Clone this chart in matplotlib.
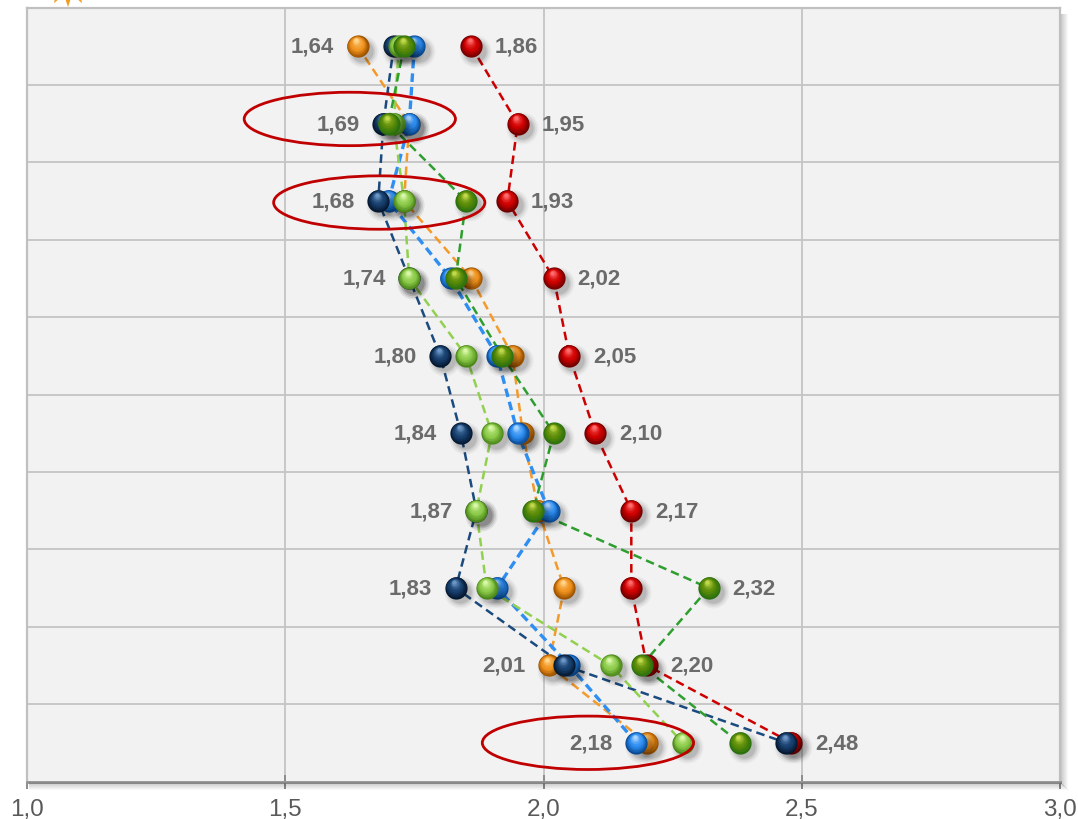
import numpy as np
import matplotlib
matplotlib.use("Agg")
import matplotlib.pyplot as plt
from matplotlib import transforms
from matplotlib.patches import Ellipse, Polygon
from matplotlib.lines import Line2D
from matplotlib.colors import to_rgb

# ---- data: ten categories (rows, top to bottom), six series ----
n_rows = 10
x_ticks = [1.0, 1.5, 2.0, 2.5, 3.0]
x_tick_labels = ["1,0", "1,5", "2,0", "2,5", "3,0"]

red = [1.86, 1.95, 1.93, 2.02, 2.05, 2.10, 2.17, 2.17, 2.20, 2.48]
orange = [1.64, 1.74, 1.73, 1.86, 1.94, 1.96, 1.99, 2.04, 2.01, 2.20]
blue = [1.75, 1.74, 1.70, 1.82, 1.91, 1.95, 2.01, 1.91, 2.05, 2.18]
navy = [1.71, 1.69, 1.68, 1.74, 1.80, 1.84, 1.87, 1.83, 2.04, 2.47]
light_green = [1.72, 1.71, 1.73, 1.74, 1.85, 1.90, 1.87, 1.89, 2.13, 2.27]
dark_green = [1.73, 1.70, 1.85, 1.83, 1.92, 2.02, 1.98, 2.32, 2.19, 2.38]

# highlighted rows: (row index, ellipse centre on x, vertical shift)
highlights = [(1, 1.625, -0.06), (2, 1.682, 0.02), (9, 2.086, 0.0)]

# series drawn back to front: values, line colour, line width, sphere (dark, mid, light)
series = [
    (red, "#cc0000", 1.8, ("#6e0000", "#d00000", "#ff6a6a")),
    (orange, "#f39a2b", 1.8, ("#9c5200", "#f0921e", "#ffd58a")),
    (blue, "#2f8ef2", 2.4, ("#0a4a94", "#2b8cf0", "#a8d4ff")),
    (navy, "#1b4a7e", 1.8, ("#06182f", "#17406f", "#6a95c4")),
    (light_green, "#92d050", 1.8, ("#4a8619", "#8dcb4a", "#d8f7a8")),
    (dark_green, "#2e9e2e", 1.8, ("#2a7010", "#5c8c08", "#c0d84a")),
]

W, H = 1078, 820
fig = plt.figure(figsize=(W / 100, H / 100), dpi=100)
fig.patch.set_facecolor("white")

ax_l, ax_r, ax_t, ax_b = 27, 1060, 8.5, 782.5
ax = fig.add_axes([ax_l / W, 1 - ax_b / H, (ax_r - ax_l) / W, (ax_b - ax_t) / H])
ax.set_facecolor("#f2f2f2")
ax.set_xlim(1.0, 3.0)
ax.set_ylim(n_rows, 0)

rows = np.arange(n_rows) + 0.5

# grid
ax.set_yticks(np.arange(0, n_rows + 1))
ax.set_yticklabels([])
ax.tick_params(axis="y", length=0)
ax.set_xticks(x_ticks)
ax.set_xticklabels(x_tick_labels, fontsize=17.5, color="#595959",
                   family=["Liberation Sans", "DejaVu Sans"])
ax.tick_params(axis="x", direction="inout", length=9.5, width=1.4,
               color="#8c8c8c", pad=7)
ax.grid(True, color="#c4c4c4", linewidth=1.3, zorder=0)
ax.set_axisbelow(True)

for side in ("left", "top", "right"):
    ax.spines[side].set_color("#c0c0c0")
    ax.spines[side].set_linewidth(1.6)
ax.spines["bottom"].set_color("#8c8c8c")
ax.spines["bottom"].set_linewidth(1.8)

# soft shadow under the bottom axis and right of the frame
for i in range(1, 8):
    a = 0.22 * (1 - i / 8)
    yb = 1 - (ax_b + i) / H
    fig.add_artist(Line2D([(ax_l + 2) / W, (ax_r + i) / W], [yb, yb],
                          color="black", alpha=a, lw=0.75))
    xr = (ax_r + i) / W
    fig.add_artist(Line2D([xr, xr], [1 - (ax_t + 6) / H, 1 - (ax_b + i) / H],
                          color="black", alpha=a, lw=0.75))

# decorative sunburst peeking in at the top left
cx, cy, r_out, r_in = 68, -20, 28, 16
pts = []
for k in range(24):
    ang = -np.pi / 2 + k * np.pi / 12
    r = r_out if k % 2 == 0 else r_in
    pts.append(((cx + r * np.cos(ang)) / W, 1 - (cy - r * np.sin(ang)) / H))
fig.add_artist(Polygon(pts, closed=True, facecolor="#f39a1f", edgecolor="none",
                       transform=fig.transFigure, zorder=0))

D = 16.0  # sphere diameter, points


def draw_spheres(xs, ys, dark, mid, light, z):
    # soft drop shadow
    for scale, a in [(1.45, 0.035), (1.3, 0.05), (1.15, 0.07), (1.0, 0.1)]:
        tr = transforms.offset_copy(ax.transData, fig=fig, x=3.0, y=-3.2, units="points")
        ax.scatter(xs, ys, s=(D * scale) ** 2, color="black", alpha=a, lw=0,
                   transform=tr, zorder=z)
    c0, c1, c2 = (np.array(to_rgb(c)) for c in (dark, mid, light))
    n = 12
    for i in range(n):
        t = i / (n - 1)
        if t < 0.45:
            c = c0 + (c1 - c0) * (t / 0.45)
        else:
            c = c1 + (c2 - c1) * ((t - 0.45) / 0.55) ** 1.6
        size = D * (1 - 0.82 * t)
        off = 0.26 * D * t
        tr = transforms.offset_copy(ax.transData, fig=fig, x=-0.25 * off, y=off,
                                    units="points")
        ax.scatter(xs, ys, s=size ** 2, color=c, lw=0, transform=tr,
                   zorder=z + 0.01 * (i + 1))


for k, (vals, lc, lw, (dk, md, lt)) in enumerate(series):
    ax.plot(vals, rows, color=lc, lw=lw, dashes=(6.2 / lw, 3.6 / lw),
            zorder=2 + 0.1 * k)
    draw_spheres(vals, rows, dk, md, lt, 10 + k)

# min / max value labels for every row
lab_kw = dict(fontsize=16, fontweight="bold", color="#6b6b6b", va="center",
              textcoords="offset points", zorder=30,
              family=["Liberation Sans", "DejaVu Sans"])
for r in range(n_rows):
    row_vals = [s[0][r] for s in series]
    lo, hi = min(row_vals), max(row_vals)
    ax.annotate(f"{lo:.2f}".replace(".", ","), (lo, rows[r]), xytext=(-17, 0),
                ha="right", **lab_kw)
    ax.annotate(f"{hi:.2f}".replace(".", ","), (hi, rows[r]), xytext=(17, 0),
                ha="left", **lab_kw)

# red ellipses around highlighted rows
for r, xc, dy in highlights:
    ax.add_patch(Ellipse((xc, rows[r] + dy), width=0.409, height=0.69,
                         facecolor="none", edgecolor="#c00000", lw=2.0, zorder=40))

fig.savefig("out.png", dpi=100)
